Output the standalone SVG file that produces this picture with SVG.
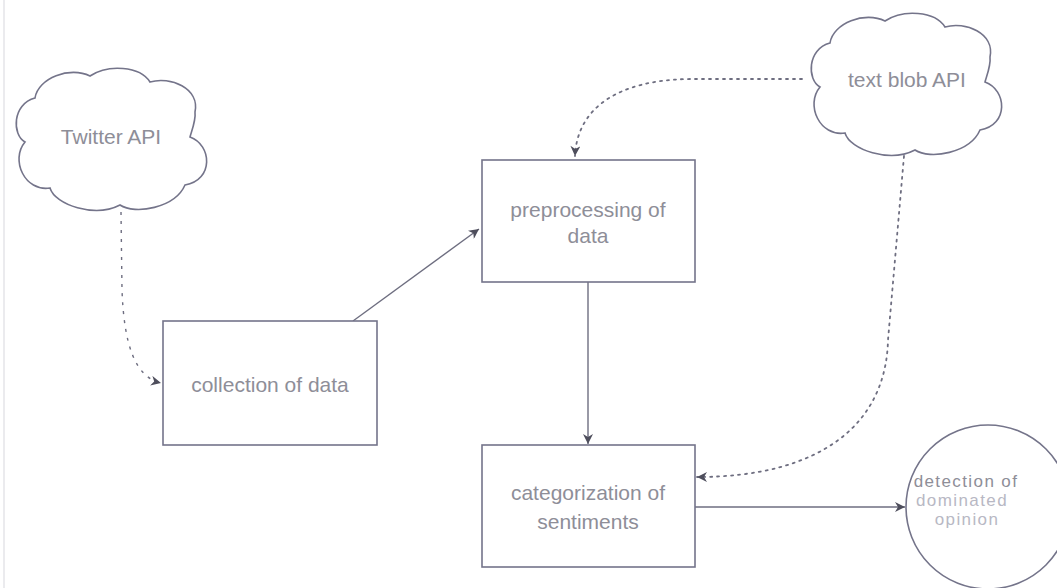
<svg xmlns="http://www.w3.org/2000/svg" width="1057" height="588" viewBox="0 0 1057 588">
<style>
.bg{fill:#ffffff}
.shape{fill:#ffffff;stroke:#74748a;stroke-width:1.6}
.lbl{font-family:"Liberation Sans",Arial,sans-serif;font-size:21px;fill:#8e8e98;text-anchor:middle}
.small{font-size:17px;letter-spacing:1.4px}
.faint{fill:#b8b8c4}
.edge{fill:none;stroke:#6e6e80;stroke-width:1.4}
.dash{stroke-dasharray:3 6}
.dot{stroke-dasharray:2 5;stroke-linecap:round;stroke-width:1.8}
</style>
<defs>
<marker id="arr" viewBox="0 0 10 10" refX="10" refY="5" markerWidth="11" markerHeight="10" markerUnits="userSpaceOnUse" orient="auto">
<path d="M0,0 L10,5 L0,10 L3,5 Z" fill="#4e4e5c"/>
</marker>
<path id="cloud" d="M 8,72 C -5,65 -5,34 18,28 C 21,8 53,-4 73,6 C 91,-6 123,-4 133,12 C 153,6 183,18 178,42 C 179,50 175,60 173,67 C 195,75 197,110 168,115 C 158,138 118,145 103,135 C 78,148 38,135 33,118 C 8,122 -7,90 8,72 Z"/>
</defs>
<rect class="bg" x="0" y="0" width="1057" height="588"/>
<line x1="4" y1="0" x2="4" y2="588" stroke="#e4e4e8" stroke-width="1.5"/>

<g id="connectors">
<path class="edge dash" d="M121,212 L122,290 C124,345 135,377 161,383" marker-end="url(#arr)"/>
<path class="edge" d="M353,321 L479,229" marker-end="url(#arr)"/>
<path class="edge dot" d="M802,79 L690,79 C615,80 577,110 575,156" marker-end="url(#arr)"/>
<path class="edge" d="M588,282 L588,444" marker-end="url(#arr)"/>
<path class="edge dot" d="M904,156 L888,340 C886,425 820,477 697,477" marker-end="url(#arr)"/>
<path class="edge" d="M695,507 L905,507" marker-end="url(#arr)"/>
</g>

<g id="twitter-api">
<use href="#cloud" class="shape" transform="translate(17,70)"/>
<text class="lbl" x="111" y="144">Twitter API</text>
</g>

<g id="text-blob-api">
<use href="#cloud" class="shape" transform="translate(812,15)"/>
<text class="lbl" x="907" y="87">text blob API</text>
</g>

<g id="collection">
<rect class="shape" x="163" y="321" width="214" height="124"/>
<text class="lbl" x="270" y="392">collection of data</text>
</g>

<g id="preprocessing">
<rect class="shape" x="482" y="160" width="213" height="122"/>
<text class="lbl" x="588" y="217">preprocessing of</text>
<text class="lbl" x="588" y="243">data</text>
</g>

<g id="categorization">
<rect class="shape" x="482" y="445" width="213" height="122"/>
<text class="lbl" x="588" y="500">categorization of</text>
<text class="lbl" x="588" y="529">sentiments</text>
</g>

<g id="detection">
<circle class="shape" cx="988" cy="507" r="82"/>
<text class="lbl small" x="966" y="487">detection of</text>
<text class="lbl small faint" x="962" y="506">dominated</text>
<text class="lbl small faint" x="967" y="525">opinion</text>
</g>
</svg>
